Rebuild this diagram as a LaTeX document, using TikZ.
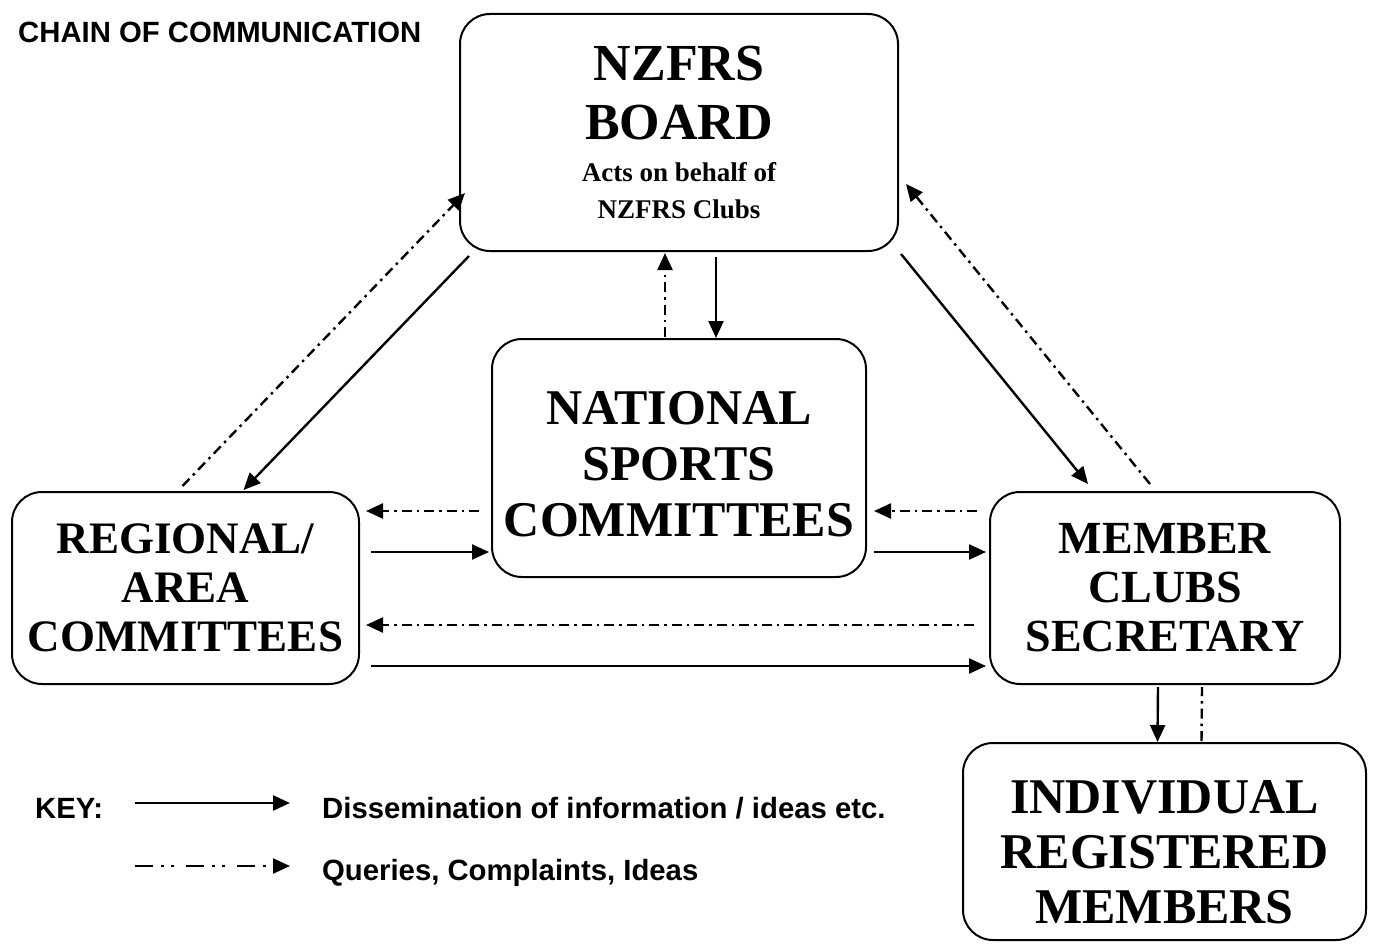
\documentclass[tikz,border=0pt]{standalone}
\usepackage{fontspec}
\setmainfont{Liberation Serif}
\newfontfamily\keyfont{Liberation Sans}
\usetikzlibrary{calc,arrows.meta}

\begin{document}
\begin{tikzpicture}[x=1pt,y=1pt,
    box/.style={draw=black,line width=2pt,rounded corners=30pt,align=center,inner sep=0pt},
    keytext/.style={anchor=base west,inner sep=0pt,font=\keyfont\bfseries\fontsize{29.3}{32}\selectfont},
    info/.style={line width=2.4pt,-{Triangle[length=17pt,width=15pt]}},
    query/.style={info,dash pattern=on 10pt off 5pt on 2.5pt off 5pt}]
    \useasboundingbox (0,0) rectangle (1375,-952);
    \node[keytext] (title) at (18,-43) {CHAIN OF COMMUNICATION};
    \begin{scope}[every node/.append style={box}]
        \node[minimum width=438pt,minimum height=237pt,font=\bfseries\fontsize{52}{59}\selectfont] (board) at (679,-132.5)
            {NZFRS\\BOARD\\[-17pt]
             {\fontsize{27}{31}\selectfont Acts on behalf of}\\[-22pt]
             {\fontsize{27}{31}\selectfont NZFRS Clubs}};
        \node[minimum width=374pt,minimum height=238pt,font=\bfseries\fontsize{50}{56}\selectfont] (nsc) at (679,-458)
            {\rule{0pt}{46pt}NATIONAL\\SPORTS\\COMMITTEES};
        \node[minimum width=347pt,minimum height=192pt,font=\bfseries\fontsize{45}{49}\selectfont] (regional) at (185.5,-588)
            {REGIONAL/\\AREA\\COMMITTEES};
        \node[minimum width=350pt,minimum height=192pt,font=\bfseries\fontsize{46}{49}\selectfont] (member) at (1165,-588)
            {MEMBER\\CLUBS\\SECRETARY};
        \node[minimum width=403pt,minimum height=197pt,font=\bfseries\fontsize{50}{55}\selectfont] (indiv) at (1164.5,-841.5)
            {\rule{0pt}{54pt}INDIVIDUAL\\REGISTERED\\MEMBERS};
    \end{scope}
    % board <-> national sports committees
    \draw[query] ($(nsc.north)+(-14,1)$) -- ($(board.south)+(-14,-1)$);
    \draw[info] ($(board.south)+(37,-5)$) -- ($(nsc.north)+(37,0)$);
    % board <-> regional
    \draw[info] ($(board.south west)+(10,-4)$) -- ($(regional.north)+(58,1)$);
    \draw[query] ($(regional.north)+(-3,5)$) -- ($(board.south west)+(6,59)$);
    % board <-> member clubs
    \draw[info] ($(board.south east)+(2,-2)$) -- ($(member.north)+(-77,7)$);
    \draw[query] ($(member.north)+(-15,7)$) -- ($(board.south east)+(7,68)$);
    % across the middle
    \draw[query] ($(nsc.west)+(-12,-53)$) -- ($(regional.east)+(6,77)$);
    \draw[info] ($(regional.east)+(11,36)$) -- ($(nsc.west)+(-2,-94)$);
    \draw[query] ($(member.west)+(-12,77)$) -- ($(nsc.east)+(7,-53)$);
    \draw[info] ($(nsc.east)+(7,-94)$) -- ($(member.west)+(-3,36)$);
    \draw[query] ($(member.west)+(-15,-37)$) -- ($(regional.east)+(6,-37)$);
    \draw[info] ($(regional.east)+(11,-78)$) -- ($(member.west)+(-3,-78)$);
    % member clubs <-> individual members
    \draw[info] ($(member.south)+(-7,-2)$) -- ($(indiv.north)+(-7,0)$);
    \draw[query,-] ($(indiv.north)+(37,1)$) -- ($(member.south)+(37,-2)$);
    % key
    \node[keytext] (keylbl) at (35,-818) {KEY:};
    \node[keytext] (keyinfo) at (322,-818) {Dissemination of information / ideas etc.};
    \node[keytext] (keyquery) at (322,-880) {Queries, Complaints, Ideas};
    \coordinate (kinfo) at (135,-803);
    \coordinate (kquery) at (135,-866);
    \draw[info] (kinfo) -- ([xshift=-32pt]kinfo -| keyinfo.west);
    \draw[info,dash pattern=on 18pt off 8pt on 3pt off 7pt on 3pt off 12pt] (kquery) -- ([xshift=-32pt]kquery -| keyquery.west);
\end{tikzpicture}
\end{document}
